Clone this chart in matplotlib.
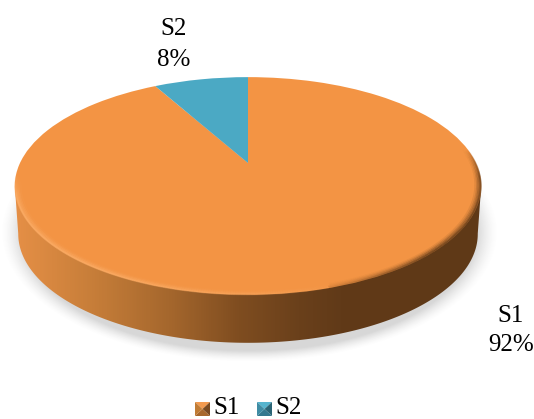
import numpy as np
import matplotlib
matplotlib.use("Agg")
import matplotlib.pyplot as plt
from matplotlib.collections import LineCollection
from matplotlib.patches import Polygon
from matplotlib.transforms import Transform
from matplotlib.colors import LinearSegmentedColormap, to_rgb

categories = ["S1", "S2"]
values = [92, 8]
pct_labels = ["92%", "8%"]
colors = ["#F39444", "#4BA9C4"]

W, H = 534, 419
# disc geometry in image pixels
APEX_X, APEX_Y = 248, 163
KP, AY, BX = 0.211, 104.0, 228.0
DEPTH = 48
FS = 18


class Tilt(Transform):
    """Perspective view of the unit disc, output in image pixels."""
    input_dims = output_dims = 2
    has_inverse = False

    def transform_non_affine(self, xy):
        xy = np.asarray(xy)
        d = 1 + KP * xy[:, 1]
        return np.column_stack([APEX_X + BX * xy[:, 0] / d, APEX_Y - AY * xy[:, 1] / d])


plt.rcParams["font.family"] = ["Liberation Serif", "DejaVu Serif"]
fig = plt.figure(figsize=(W / 100, H / 100), dpi=100)
ax = fig.add_axes([0, 0, 1, 1])

tilt = Tilt()
t = np.linspace(0, 2 * np.pi, 721)
rim = tilt.transform(np.column_stack([np.cos(t), np.sin(t)]))

# soft shadow under the disc
yy, xx = np.mgrid[0:H, 0:W]
d = np.hypot((xx - 249) / 238.0, (yy - 232) / 124.0)
alpha = np.clip((1.0 - d) / 0.09 + 0.5, 0, 1) ** 1.5 * 0.28
shadow = np.zeros((H, W, 4))
shadow[..., :3] = 0.45
shadow[..., 3] = alpha
ax.imshow(shadow, extent=(0, W, H, 0), zorder=1, aspect="auto")

# side wall with the horizontal gradient
side_cmap = LinearSegmentedColormap.from_list(
    "side",
    [(0, "#E58F46"), (0.05, "#DC8A42"), (0.18, "#C47C38"), (0.33, "#A5672D"),
     (0.48, "#7F4D20"), (0.61, "#6A401B"), (0.70, "#613A18"), (1, "#5F3917")],
)
grad = side_cmap(np.linspace(0, 1, W))[None, :, :]
im = ax.imshow(grad, extent=(15, 481, 360, 160), zorder=2, aspect="auto")
left_i, right_i = rim[:, 0].argmin(), rim[:, 0].argmax()
lower = rim[rim[:, 1] >= rim[left_i, 1]]
lower = lower[np.argsort(lower[:, 0])]
shifted = lower.copy()
shifted[:, 1] += DEPTH
shifted[:, 0] = 248 + (shifted[:, 0] - 248) * 0.985
outline = np.vstack([rim[left_i], shifted, rim[right_i]])
im.set_clip_path(Polygon(outline, closed=True, transform=ax.transData))

# disc top, drawn by pie and tilted into view
wedges, _ = ax.pie(values, colors=colors, startangle=90, counterclock=False,
                   radius=1, wedgeprops=dict(linewidth=0))
for w in wedges:
    w.set_transform(tilt + ax.transData)
    w.set_zorder(3)

# bevel just inside the edge of the disc
light_rgb, dark_rgb = to_rgb("#FDB26E"), to_rgb("#6A401B")
for r, strength in [(0.975, 0.12), (0.982, 0.3), (0.988, 0.5), (0.994, 0.7), (0.998, 0.8)]:
    pts = tilt.transform(np.column_stack([r * np.cos(t), r * np.sin(t)]))
    segs = np.stack([pts[:-1], pts[1:]], axis=1)
    xn = (segs[:, 0, 0] - 15) / 466
    front = np.clip((APEX_Y + 10 - segs[:, 0, 1]) / -20, 0, 1)
    light = np.clip(1 - xn / 0.72, 0, 1) ** 0.8 * front
    dark = np.clip((xn - 0.6) / 0.3, 0, 1) ** 1.5 * np.clip((segs[:, 0, 1] - 150) / 30, 0, 1)
    rgba = np.zeros((len(segs), 4))
    rgba[:, :3] = np.where(dark[:, None] > light[:, None], dark_rgb, light_rgb)
    rgba[:, 3] = np.maximum(light * 0.8, dark) * strength
    ax.add_collection(LineCollection(segs, colors=rgba, linewidths=1.2, zorder=4))

# data labels
ax.text(174, 35, categories[1], ha="center", va="baseline", fontsize=FS, zorder=6)
ax.text(174, 66, pct_labels[1], ha="center", va="baseline", fontsize=FS, zorder=6)
ax.text(511, 322, categories[0], ha="center", va="baseline", fontsize=FS, zorder=6)
ax.text(511, 351, pct_labels[0], ha="center", va="baseline", fontsize=FS, zorder=6)

# legend with pyramid swatches: top, right, bottom, left faces
shades = [
    ("#F29A4F", "#7A4A20", "#A8682C", "#C07C35"),
    ("#55B4CE", "#2A6475", "#35788E", "#3F8CA4"),
]
for (x0, label, sh) in zip([195, 257], categories, shades):
    s = 15
    top, bot = 402, 416
    cx, cy = x0 + s / 2, (top + bot) / 2
    tl, tr = (x0, top), (x0 + s, top)
    bl, br = (x0, bot), (x0 + s, bot)
    for tri, col in zip([(tl, tr), (tr, br), (br, bl), (bl, tl)], sh):
        ax.add_patch(Polygon([tri[0], tri[1], (cx, cy)], closed=True, fc=col, ec="none", zorder=6))
    ax.text(x0 + 18, 414, label, ha="left", va="baseline", fontsize=FS, zorder=6)

ax.set_aspect("auto")
ax.set_xlim(0, W)
ax.set_ylim(H, 0)
ax.axis("off")
fig.savefig("out.png", dpi=100)
